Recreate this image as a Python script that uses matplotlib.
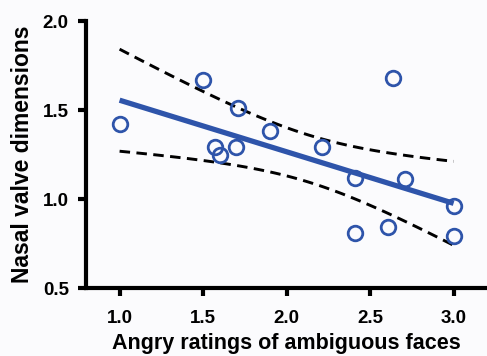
import numpy as np
import matplotlib
matplotlib.use('Agg')
import matplotlib.pyplot as plt

plt.rcParams['font.family'] = ['Liberation Sans', 'DejaVu Sans']
plt.rcParams['font.weight'] = 'bold'

# ratings vs nasal valve dimensions
angry_ratings = [1.0, 1.5, 1.71, 1.57, 1.60, 1.70, 1.90, 2.21, 2.64,
                 2.41, 2.71, 3.0, 2.41, 2.61, 3.0]
nasal_valve = [1.42, 1.67, 1.51, 1.29, 1.25, 1.29, 1.38, 1.29, 1.68,
               1.12, 1.11, 0.96, 0.81, 0.84, 0.79]
x_ticks = [1.0, 1.5, 2.0, 2.5, 3.0]
y_ticks = [0.5, 1.0, 1.5, 2.0]

blue = '#2e54aa'

x = np.array(angry_ratings)
y = np.array(nasal_valve)
n = len(x)
slope, intercept = np.polyfit(x, y, 1)
resid = y - (slope * x + intercept)
s = np.sqrt(np.sum(resid ** 2) / (n - 2))
t_crit = 2.160  # t(0.975, 13)
xs = np.linspace(x.min(), x.max(), 100)
ys = slope * xs + intercept
se = s * np.sqrt(1.0 / n + (xs - x.mean()) ** 2 / np.sum((x - x.mean()) ** 2))

fig = plt.figure(figsize=(4.87, 3.56), dpi=100, facecolor='#fbfbfd')
ax = fig.add_axes([0.177, 0.191, 0.823, 0.75])
ax.set_facecolor('#fbfbfd')

ax.plot(xs, ys + t_crit * se, color='black', lw=2.1, ls=(0, (3.6, 2.2)))
ax.plot(xs, ys - t_crit * se, color='black', lw=2.1, ls=(0, (3.6, 2.2)))
ax.plot(xs, ys, color=blue, lw=3.8, solid_capstyle='butt')
ax.plot(x, y, 'o', ms=10.5, mfc='none', mec=blue, mew=2.0, zorder=5)

ax.set_xlim(0.8, 3.2)
ax.set_ylim(0.5, 2.0)
ax.set_xticks(x_ticks)
ax.set_yticks(y_ticks)
ax.set_xticklabels([f'{v:.1f}' for v in x_ticks])
ax.set_yticklabels([f'{v:.1f}' for v in y_ticks])

for side in ('top', 'right'):
    ax.spines[side].set_visible(False)
for side in ('left', 'bottom'):
    ax.spines[side].set_linewidth(3.0)
ax.tick_params(width=3.0, length=6, labelsize=13.5)
ax.tick_params(axis='x', pad=9.5)
ax.tick_params(axis='y', pad=6.5)

ax.set_xlabel('Angry ratings of ambiguous faces', fontsize=15.5,
              fontweight='bold', labelpad=4.5)
ax.set_ylabel('Nasal valve dimensions', fontsize=16.5, fontweight='bold',
              labelpad=6.5)

fig.savefig('out.png', dpi=100, facecolor=fig.get_facecolor())
